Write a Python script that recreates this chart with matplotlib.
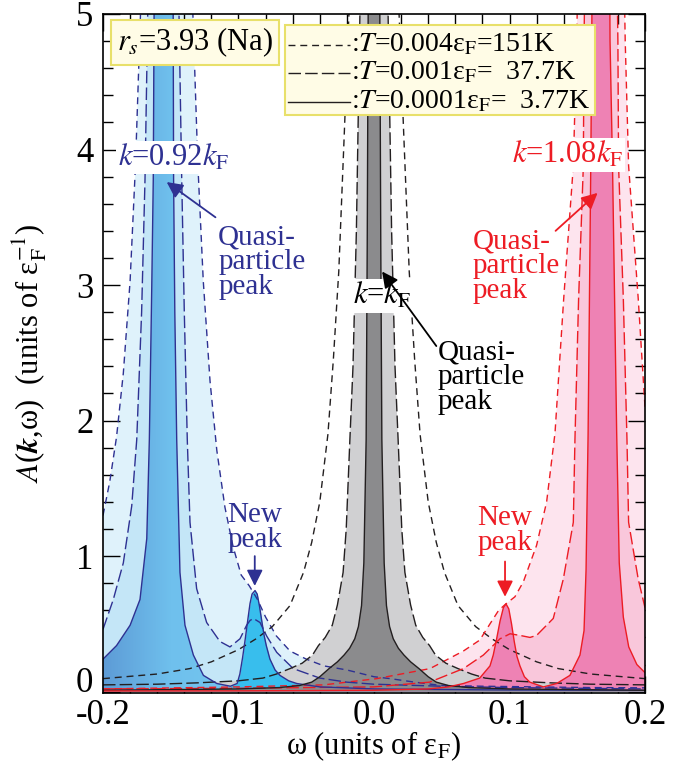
import numpy as np
import matplotlib
matplotlib.use('Agg')
import matplotlib.pyplot as plt
from matplotlib.colors import LinearSegmentedColormap
from matplotlib.patches import Rectangle
from matplotlib.ticker import MultipleLocator, FormatStrFormatter

plt.rcParams['font.family'] = ['Liberation Serif', 'DejaVu Serif']
plt.rcParams['mathtext.fontset'] = 'stix'
plt.rcParams['axes.unicode_minus'] = False

# ---- values (omega in eF, A in 1/eF) ----
# k = 0.92 kF
blue_short_w = [-0.200, -0.195, -0.190, -0.185, -0.180, -0.176, -0.172, -0.168, -0.163, -0.158, -0.153,
                -0.148, -0.143, -0.138, -0.134, -0.130, -0.126, -0.121, -0.116, -0.110, -0.104, -0.098,
                -0.092, -0.086, -0.080, -0.072, -0.062, -0.050, -0.037, -0.020, 0.000, 0.012, 0.030,
                0.049, 0.080, 0.120, 0.160, 0.200]
blue_short_A = [1.30, 1.55, 1.88, 2.35, 3.03, 3.89, 5.10, 6.82, 9.87, 13.5, 15.4,
                13.5, 9.87, 6.82, 5.10, 3.89, 3.03, 2.29, 1.78, 1.36, 1.07, 0.86,
                0.78, 0.68, 0.55, 0.41, 0.30, 0.24, 0.19, 0.16, 0.11, 0.096, 0.07,
                0.046, 0.04, 0.035, 0.03, 0.028]
blue_long_w = [-0.200, -0.1924, -0.185, -0.1788, -0.1751, -0.1715, -0.169, -0.1672, -0.165, -0.160, -0.1555,
               -0.151, -0.146, -0.1437, -0.1419, -0.140, -0.1378, -0.1358, -0.1309, -0.1235, -0.1137,
               -0.1063, -0.0989, -0.094, -0.0915, -0.089, -0.0841, -0.0792, -0.0718, -0.0596, -0.040,
               -0.020, 0.000, 0.050, 0.100, 0.200]
blue_long_A = [0.46, 0.68, 0.95, 1.37, 1.86, 2.8, 3.78, 4.86, 6.5, 15.0, 25.0,
               15.0, 6.5, 4.86, 3.78, 2.8, 1.86, 1.25, 0.76, 0.51, 0.37,
               0.33, 0.39, 0.49, 0.525, 0.54, 0.51, 0.41, 0.29, 0.17, 0.10,
               0.07, 0.055, 0.04, 0.03, 0.02]
blue_solid_w = [-0.200, -0.190, -0.180, -0.1727, -0.1677, -0.1658, -0.1640, -0.1629, -0.1623, -0.161, -0.1555,
                -0.150, -0.1482, -0.1479, -0.1470, -0.1456, -0.1432, -0.1395, -0.1333, -0.1259, -0.116,
                -0.106, -0.101, -0.099, -0.097, -0.095, -0.093, -0.0915, -0.090, -0.0878, -0.0862,
                -0.0845, -0.0828, -0.0812, -0.0795, -0.0768, -0.073, -0.0694, -0.063, -0.057, -0.040,
                0.000, 0.100, 0.200]
blue_solid_A = [0.24, 0.34, 0.49, 0.68, 1.13, 1.86, 3.0, 3.78, 5.0, 8.0, 40.0,
                8.0, 5.0, 3.78, 2.8, 1.86, 0.88, 0.49, 0.27, 0.12, 0.06,
                0.04, 0.06, 0.13, 0.25, 0.39, 0.54, 0.65, 0.72, 0.746, 0.72,
                0.63, 0.52, 0.42, 0.34, 0.24, 0.16, 0.12, 0.08, 0.06, 0.035,
                0.02, 0.012, 0.01]
blue_split = -0.106  # quasiparticle peak | new peak

# k = kF
black_short_w = [-0.200, -0.160, -0.136, -0.120, -0.100, -0.087, -0.075, -0.062, -0.052, -0.046, -0.040,
                 -0.034, -0.030, -0.026, -0.022, -0.0185, -0.014, -0.010, -0.006, 0.000, 0.006, 0.010,
                 0.014, 0.0185, 0.022, 0.026, 0.030, 0.034, 0.040, 0.046, 0.052, 0.062, 0.075, 0.087,
                 0.100, 0.120, 0.136, 0.160, 0.200]
black_short_A = [0.096, 0.13, 0.17, 0.22, 0.31, 0.39, 0.48, 0.635, 0.88, 1.10, 1.40,
                 1.90, 2.45, 3.10, 4.10, 5.00, 6.50, 8.60, 11.0, 14.0, 11.0, 8.60,
                 6.50, 5.00, 4.10, 3.10, 2.45, 1.90, 1.40, 1.10, 0.88, 0.635, 0.48, 0.39,
                 0.31, 0.22, 0.17, 0.13, 0.096]
black_long_w = [-0.200, -0.160, -0.130, -0.100, -0.082, -0.072, -0.062, -0.053, -0.0454, -0.041, -0.036,
                -0.0308, -0.027, -0.0228, -0.0205, -0.0178, -0.0155, -0.013, -0.0104, -0.007, -0.004,
                0.000, 0.004, 0.007, 0.0104, 0.013, 0.0155, 0.0178, 0.0205, 0.0228, 0.027, 0.0308,
                0.036, 0.041, 0.0454, 0.053, 0.062, 0.072, 0.082, 0.100, 0.130, 0.160, 0.200]
black_long_A = [0.05, 0.055, 0.065, 0.08, 0.10, 0.13, 0.17, 0.21, 0.27, 0.34, 0.40,
                0.49, 0.64, 0.88, 1.20, 1.86, 2.40, 3.40, 5.00, 10.0, 20.0,
                40.0, 20.0, 10.0, 5.00, 3.40, 2.40, 1.86, 1.20, 0.88, 0.64, 0.49,
                0.40, 0.34, 0.27, 0.21, 0.17, 0.13, 0.10, 0.08, 0.065, 0.055, 0.05]
black_solid_w = [-0.200, -0.150, -0.100, -0.070, -0.055, -0.046, -0.040, -0.0332, -0.027, -0.0221, -0.018,
                 -0.0142, -0.0115, -0.0092, -0.0075, -0.0058, -0.005, -0.0043, -0.0035, -0.002, 0.000,
                 0.002, 0.0035, 0.0043, 0.005, 0.0058, 0.0075, 0.0092, 0.0115, 0.0142, 0.018, 0.0221,
                 0.027, 0.0332, 0.040, 0.046, 0.055, 0.070, 0.100, 0.150, 0.200]
black_solid_A = [0.01, 0.015, 0.02, 0.03, 0.045, 0.07, 0.11, 0.17, 0.22, 0.27, 0.32,
                 0.39, 0.48, 0.635, 0.95, 1.86, 3.30, 5.00, 6.50, 12.0, 40.0,
                 12.0, 6.50, 5.00, 3.30, 1.86, 0.95, 0.635, 0.48, 0.39, 0.32, 0.27,
                 0.22, 0.17, 0.11, 0.07, 0.045, 0.03, 0.02, 0.015, 0.01]

# k = 1.08 kF
red_short_w = [-0.200, -0.100, -0.037, 0.002, 0.0413, 0.066, 0.078, 0.0856, 0.092, 0.0974, 0.104,
               0.1102, 0.120, 0.1274, 0.1336, 0.140, 0.1471, 0.1496, 0.155, 0.161, 0.1675, 0.174,
               0.180, 0.1854, 0.1879, 0.195, 0.200]
red_short_A = [0.02, 0.035, 0.05, 0.096, 0.17, 0.30, 0.38, 0.50, 0.60, 0.648, 0.70,
               0.81, 1.08, 1.40, 1.91, 2.90, 3.88, 4.80, 8.0, 12.5, 15.0, 12.5,
               8.0, 4.80, 3.88, 2.90, 2.10]
red_long_w = [-0.200, -0.100, 0.000, 0.041, 0.066, 0.0807, 0.093, 0.1004, 0.1077, 0.1151, 0.120,
              0.1323, 0.1397, 0.1471, 0.1483, 0.151, 0.1545, 0.155, 0.158, 0.1675, 0.177, 0.180,
              0.1805, 0.184, 0.1867, 0.1879, 0.195, 0.200]
red_long_A = [0.02, 0.025, 0.035, 0.07, 0.17, 0.27, 0.39, 0.427, 0.415, 0.40, 0.415,
              0.54, 0.83, 1.25, 1.86, 2.9, 3.88, 4.8, 7.0, 25.0, 7.0, 4.8,
              3.88, 2.9, 1.86, 1.25, 0.83, 0.62]
red_solid_w = [-0.200, -0.100, 0.000, 0.040, 0.055, 0.066, 0.078, 0.0856, 0.088, 0.0905, 0.093,
               0.0955, 0.0974, 0.0995, 0.1015, 0.1035, 0.1055, 0.1077, 0.111, 0.115, 0.125,
               0.1348, 0.1446, 0.152, 0.1550, 0.1565, 0.1580, 0.1600, 0.1607, 0.1625, 0.1675,
               0.1725, 0.1742, 0.1760, 0.1791, 0.1810, 0.1840, 0.1880, 0.1940, 0.2000]
red_solid_A = [0.005, 0.006, 0.01, 0.02, 0.035, 0.06, 0.10, 0.19, 0.27, 0.39, 0.52,
               0.62, 0.648, 0.61, 0.50, 0.37, 0.26, 0.19, 0.11, 0.07, 0.035,
               0.06, 0.12, 0.27, 0.45, 0.90, 1.90, 3.90, 4.80, 8.0, 40.0,
               8.0, 4.80, 3.90, 1.91, 0.95, 0.55, 0.33, 0.20, 0.14]

legend_labels = [':$T$=0.004ε$_\\mathrm{F}$=151K',
                 ':$T$=0.001ε$_\\mathrm{F}$=  37.7K',
                 ':$T$=0.0001ε$_\\mathrm{F}$=  3.77K']

# ---- styles ----
blue, red, black = '#2e3192', '#ed1c24', '#231f20'
short_dash = (0, (5, 3.5))
long_dash = (0, (9, 3))

fig = plt.figure(figsize=(6.89, 7.65), dpi=100)
ax = fig.add_axes([103 / 689, 1 - 693 / 765, 542 / 689, 679 / 765])

# fills
ax.fill_between(red_short_w, 0, red_short_A, color='#fde4ee', lw=0, zorder=1)
ax.fill_between(blue_short_w, 0, blue_short_A, color='#dff2fb', lw=0, zorder=1)
ax.fill_between(blue_long_w, 0, blue_long_A, color='#c4e6f7', lw=0, zorder=2)
ax.fill_between(red_long_w, 0, red_long_A, color='#f9c7db', lw=0, zorder=2)
ax.fill_between(black_long_w, 0, black_long_A, color='#d0d0d2', lw=0, zorder=3)

bw = np.array(blue_solid_w)
bA = np.array(blue_solid_A)
qp = bw <= blue_split
qp_fill = ax.fill_between(bw[qp], 0, bA[qp], facecolor='none', lw=0, zorder=4)
grad_cmap = LinearSegmentedColormap.from_list(
    'qp', [(0.0, '#5d9bd6'), (0.5, '#6fc0ed'), (1.0, '#74c6ef')])
im = ax.imshow(np.linspace(0, 1, 256)[None, :], extent=(-0.2, -0.1, -0.02, 5.0),
               cmap=grad_cmap, aspect='auto', zorder=4)
im.set_clip_path(qp_fill.get_paths()[0], transform=ax.transData)
ax.fill_between(bw[bw >= blue_split], 0, bA[bw >= blue_split], color='#38beed', lw=0, zorder=4)
ax.fill_between(red_solid_w, 0, red_solid_A, color='#ee82b4', lw=0, zorder=4)
ax.fill_between(black_solid_w, 0, black_solid_A, color='#8b8b8d', lw=0, zorder=5)

# lines
for w, A, c in [(blue_short_w, blue_short_A, blue), (black_short_w, black_short_A, black),
                (red_short_w, red_short_A, red)]:
    ax.plot(w, A, color=c, lw=1.0, ls=short_dash, zorder=6)
for w, A, c in [(blue_long_w, blue_long_A, blue), (black_long_w, black_long_A, black),
                (red_long_w, red_long_A, red)]:
    ax.plot(w, A, color=c, lw=1.0, ls=long_dash, zorder=7)
for w, A, c in [(blue_solid_w, blue_solid_A, blue), (black_solid_w, black_solid_A, black),
                (red_solid_w, red_solid_A, red)]:
    ax.plot(w, A, color=c, lw=1.0, ls='-', zorder=8)

ax.set_xlim(-0.2, 0.2)
ax.set_ylim(-0.01, 5)

# axes styling
ax.xaxis.set_major_locator(MultipleLocator(0.1))
ax.xaxis.set_minor_locator(MultipleLocator(0.02))
ax.set_yticks([0, 1, 2, 3, 4, 5])
ax.yaxis.set_minor_locator(MultipleLocator(0.2))
ax.xaxis.set_major_formatter(FormatStrFormatter('%.1f'))
ax.tick_params(which='both', direction='in', top=True, right=True, labelsize=25, width=1.0)
ax.tick_params(axis='x', pad=4)
ax.tick_params(axis='y', pad=7)
ax.tick_params(which='major', length=12)
ax.tick_params(which='minor', length=7)
ax.yaxis.get_major_ticks()[0].label1.set_verticalalignment('baseline')
for s in ax.spines.values():
    s.set_linewidth(1.2)
    s.set_zorder(12)

ax.set_xlabel('ω (units of ε$_\\mathrm{F}$)', fontsize=22)
ax.xaxis.set_label_coords(0.5, -0.054)
ax.set_ylabel('$A$($\\boldsymbol{k}$,ω)  (units of ε$_\\mathrm{F}^{-1}$)', fontsize=22)
ax.yaxis.set_label_coords(-0.1, 0.5)

# annotations
ax.text(-0.148, 3.94, '$k$=0.92$k_\\mathrm{F}$', color=blue, fontsize=22, ha='center', va='center',
        bbox=dict(fc='white', ec='none', pad=1), zorder=15)
ax.text(0.006, 2.92, '$k$=$k_\\mathrm{F}$', color='black', fontsize=22, ha='center', va='center',
        bbox=dict(fc='white', ec='none', pad=1), zorder=15)
ax.text(0.143, 3.96, '$k$=1.08$k_\\mathrm{F}$', color=red, fontsize=22, ha='center', va='center',
        bbox=dict(fc='white', ec='none', pad=1), zorder=15)

qp_text = 'Quasi-\nparticle\npeak'
ax.text(-0.115, 3.17, qp_text, color=blue, fontsize=21, ha='left', va='center', linespacing=0.95, zorder=15)
ax.text(0.047, 2.32, qp_text, color='black', fontsize=21, ha='left', va='center', linespacing=0.95, zorder=15)
ax.text(0.073, 3.14, qp_text, color=red, fontsize=21, ha='left', va='center', linespacing=0.95, zorder=15)
ax.text(-0.088, 1.21, 'New\npeak', color=blue, fontsize=21, ha='center', va='center', linespacing=0.95, zorder=15)
ax.text(0.0967, 1.19, 'New\npeak', color=red, fontsize=21, ha='center', va='center', linespacing=0.95, zorder=15)

def arrow(tip, tail, c):
    ax.annotate('', xy=tip, xytext=tail, zorder=16,
                arrowprops=dict(arrowstyle='-|>', color=c, lw=1.3, mutation_scale=24, shrinkA=0, shrinkB=0))

arrow((-0.153, 3.76), (-0.117, 3.50), blue)
arrow((0.006, 3.10), (0.046, 2.55), 'black')
arrow((0.165, 3.68), (0.134, 3.40), red)
arrow((-0.088, 0.78), (-0.088, 1.00), blue)
arrow((0.0967, 0.70), (0.0967, 0.96), red)

# r_s box
ax.text(0.17, 0.958, '$r_s$=3.93 (Na)', transform=ax.transAxes, fontsize=22, ha='center', va='center',
        bbox=dict(boxstyle='square,pad=0.2', fc='#fffce6', ec='#e8e06a', lw=1.5), zorder=20)

# temperature legend
ax.add_patch(Rectangle((0.336, 0.851), 0.572, 0.133, transform=ax.transAxes,
                       fc='#fffce6', ec='#e8e06a', lw=1.5, zorder=20))
rows = [0.955, 0.913, 0.871]
for y, ls, lab in zip(rows, [short_dash, long_dash, '-'], legend_labels):
    ax.plot([0.341, 0.455], [y, y], transform=ax.transAxes, color=black, lw=1.0, ls=ls, zorder=21)
    ax.text(0.457, y, lab, transform=ax.transAxes, fontsize=20, ha='left', va='center', zorder=21)

fig.savefig('out.png', dpi=100)
